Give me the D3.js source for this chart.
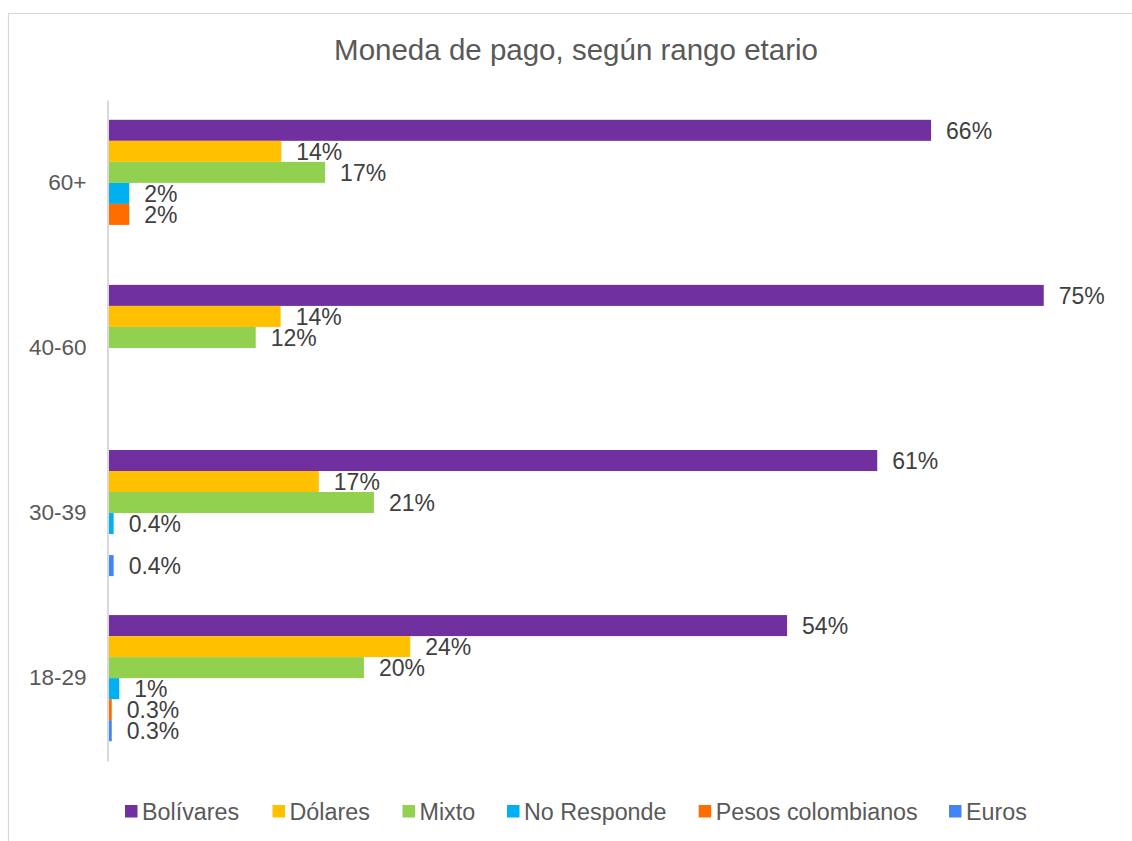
<!DOCTYPE html>
<html>
<head>
<meta charset="utf-8">
<script src="https://cdn.jsdelivr.net/npm/d3@7/dist/d3.min.js"></script>
<style>
  html, body { margin: 0; padding: 0; background: #fff; }
  svg { display: block; }
  text { font-family: "Liberation Sans", Arial, sans-serif; }
</style>
</head>
<body>
<svg id="chart" width="1132" height="841"></svg>
<script>
const title = "Moneda de pago, según rango etario";
const categories = ["60+", "40-60", "30-39", "18-29"];
const seriesNames = ["Bolívares", "Dólares", "Mixto", "No Responde", "Pesos colombianos", "Euros"];
const seriesColors = ["#7030A0", "#FFC000", "#92D050", "#00B0F0", "#FF6D01", "#4285F4"];
// values in %, per category (same order as categories); null = no bar
const bolivares = [65.7, 74.7, 61.4, 54.2];
const dolares   = [13.8, 13.75, 16.8, 24.1];
const mixto     = [17.3, 11.76, 21.2, 20.4];
const noResponde = [1.66, null, 0.41, 0.86];
const pesos     = [1.66, null, null, 0.26];
const euros     = [null, null, 0.41, 0.26];
const seriesValues = [bolivares, dolares, mixto, noResponde, pesos, euros];

const svg = d3.select("#chart");

// outer border
svg.append("rect")
  .attr("x", 8.5).attr("y", 13.5)
  .attr("width", 1140).attr("height", 840)
  .attr("fill", "#fff").attr("stroke", "#d9d9d9").attr("stroke-width", 1.2);

// title
svg.append("text")
  .attr("x", 576).attr("y", 60)
  .attr("text-anchor", "middle")
  .attr("font-size", "29.5px")
  .attr("fill", "#595959")
  .text(title);

const x = d3.scaleLinear().domain([0, 80]).range([108.5, 108.5 + 80 * 12.52]);
const y = d3.scaleBand().domain(categories).range([100, 761])
  .paddingInner(0.236).paddingOuter(0.12);
const ySub = d3.scaleBand().domain(seriesNames).range([0, y.bandwidth()]);

const fmt = v => v < 0.5 ? v.toFixed(1) + "%" : Math.round(v) + "%";

const groups = svg.append("g").selectAll("g")
  .data(categories)
  .join("g")
  .attr("transform", d => `translate(0,${y(d)})`);

groups.each(function(cat, ci) {
  const g = d3.select(this);
  const rows = seriesNames.map((s, si) => ({ s, si, v: seriesValues[si][ci] }))
    .filter(r => r.v != null);
  g.selectAll("rect").data(rows).join("rect")
    .attr("x", x(0))
    .attr("y", r => ySub(r.s))
    .attr("width", r => x(r.v) - x(0))
    .attr("height", ySub.bandwidth())
    .attr("fill", r => seriesColors[r.si]);
  g.selectAll("text").data(rows).join("text")
    .attr("x", r => x(r.v) + 15)
    .attr("y", r => ySub(r.s) + ySub.bandwidth() / 2)
    .attr("dy", "0.36em")
    .attr("font-size", "23px")
    .attr("fill", "#404040")
    .text(r => fmt(r.v));
});

// vertical axis
const yAxis = d3.axisLeft(y).tickSize(0).tickPadding(21);
const ag = svg.append("g").attr("transform", "translate(107.5,0)").call(yAxis);
ag.select(".domain").attr("stroke", "#d9d9d9").attr("stroke-width", 2);
ag.selectAll(".tick text")
  .attr("font-size", "22.5px")
  .attr("fill", "#595959")
  .attr("font-family", "\"Liberation Sans\", Arial, sans-serif");

// legend (item positions as in the reference layout)
const legendX = [125, 272.5, 402.5, 507, 698.7, 949];
const legend = svg.append("g");
const items = legend.selectAll("g").data(seriesNames).join("g")
  .attr("transform", (d, i) => `translate(${legendX[i]},0)`);
items.append("rect")
  .attr("width", 12.5).attr("height", 12.5)
  .attr("y", 805)
  .attr("fill", (d, i) => seriesColors[i]);
items.append("text")
  .attr("x", 17).attr("y", 819.5)
  .attr("font-size", "23.3px")
  .attr("fill", "#595959")
  .text(d => d);
</script>
</body>
</html>
